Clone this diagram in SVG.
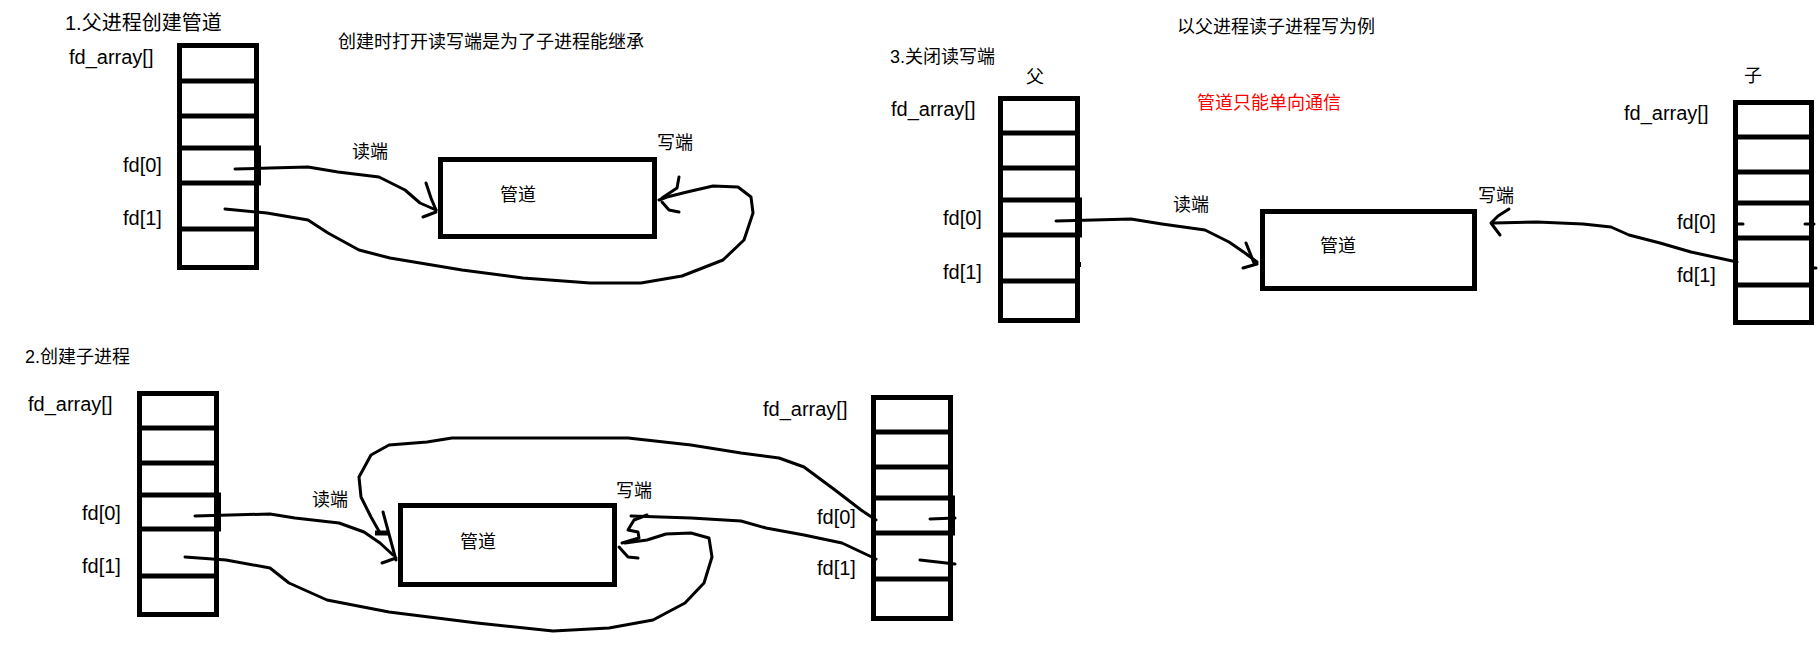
<svg xmlns="http://www.w3.org/2000/svg" width="1820" height="656" viewBox="0 0 1820 656">
<style>
.bg{fill:#fff}
.box{fill:none;stroke:#000;stroke-width:5}
.div{stroke:#000;stroke-width:5}
.pipe{fill:none;stroke:#000;stroke-width:5}
.c{fill:none;stroke:#000;stroke-width:3;stroke-linejoin:round;stroke-linecap:round}
text{font-family:"Liberation Sans","Noto Sans CJK SC",sans-serif;fill:#000}
.l{font-size:20px}
.z{font-size:18px}
.red{fill:#ff0000}
</style>
<rect class="bg" x="0" y="0" width="1820" height="656"/>

<!-- Section 1 -->
<g id="sec1-titles">
<text class="l" x="65" y="30">1.父进程创建管道</text>
<text class="z" x="338" y="48">创建时打开读写端是为了子进程能继承</text>
</g>
<g id="s1-fdarray">
<text class="l" x="69" y="64">fd_array[]</text>
<rect class="box" x="179.5" y="45.5" width="77" height="222"/>
<line class="div" x1="177" y1="81" x2="259" y2="81"/>
<line class="div" x1="177" y1="116" x2="259" y2="116"/>
<line class="div" x1="177" y1="148" x2="261" y2="148"/>
<line class="div" x1="177" y1="183" x2="261" y2="183"/>
<line class="div" x1="258.5" y1="148" x2="258.5" y2="183"/>
<line class="div" x1="177" y1="229" x2="259" y2="229"/>
<text class="l" x="123" y="172">fd[0]</text>
<text class="l" x="123" y="225">fd[1]</text>
</g>
<g id="s1-pipe">
<rect class="pipe" x="440.5" y="159.5" width="214" height="77"/>
<text class="z" x="500" y="201">管道</text>
<text class="z" x="352" y="158">读端</text>
<text class="z" x="657" y="149">写端</text>
</g>

<!-- Section 3 -->
<g id="sec3-titles">
<text class="z" x="1177" y="33">以父进程读子进程写为例</text>
<text class="z" x="890" y="63">3.关闭读写端</text>
<text class="z" x="1026" y="83">父</text>
<text class="z" x="1744" y="82">子</text>
<text class="z red" x="1197" y="109">管道只能单向通信</text>
</g>
<g id="s3-parent">
<text class="l" x="891" y="116">fd_array[]</text>
<rect class="box" x="1000.5" y="98.5" width="77" height="222"/>
<line class="div" x1="998" y1="133" x2="1080" y2="133"/>
<line class="div" x1="998" y1="168" x2="1080" y2="168"/>
<line class="div" x1="998" y1="200" x2="1082" y2="200"/>
<line class="div" x1="998" y1="235" x2="1082" y2="235"/>
<line class="div" x1="1079.5" y1="200" x2="1079.5" y2="235"/>
<line class="div" x1="998" y1="281" x2="1080" y2="281"/>
<rect x="1077" y="262" width="4" height="5" fill="#000"/>
<text class="l" x="943" y="225">fd[0]</text>
<text class="l" x="943" y="279">fd[1]</text>
</g>
<g id="s3-pipe">
<rect class="pipe" x="1262.5" y="211.5" width="212" height="77"/>
<text class="z" x="1320" y="252">管道</text>
<text class="z" x="1173" y="211">读端</text>
<text class="z" x="1478" y="202">写端</text>
</g>
<g id="s3-child">
<text class="l" x="1624" y="120">fd_array[]</text>
<rect class="box" x="1735.5" y="102.5" width="76" height="220"/>
<line class="div" x1="1733" y1="137" x2="1814" y2="137"/>
<line class="div" x1="1733" y1="172" x2="1814" y2="172"/>
<line class="div" x1="1733" y1="203" x2="1814" y2="203"/>
<line class="div" x1="1733" y1="238" x2="1814" y2="238"/>
<line class="div" x1="1733" y1="285" x2="1814" y2="285"/>
<text class="l" x="1677" y="229">fd[0]</text>
<text class="l" x="1677" y="282">fd[1]</text>
</g>

<!-- Section 2 -->
<g id="sec2-title">
<text class="z" x="25" y="363">2.创建子进程</text>
</g>
<g id="s2-parent">
<text class="l" x="28" y="411">fd_array[]</text>
<rect class="box" x="139.5" y="393.5" width="77" height="221"/>
<line class="div" x1="137" y1="428" x2="219" y2="428"/>
<line class="div" x1="137" y1="463" x2="219" y2="463"/>
<line class="div" x1="137" y1="495" x2="221" y2="495"/>
<line class="div" x1="137" y1="529" x2="221" y2="529"/>
<line class="div" x1="218.5" y1="495" x2="218.5" y2="529"/>
<line class="div" x1="137" y1="576" x2="219" y2="576"/>
<text class="l" x="82" y="520">fd[0]</text>
<text class="l" x="82" y="573">fd[1]</text>
</g>
<g id="s2-pipe">
<rect class="pipe" x="400.5" y="505.5" width="214" height="79"/>
<text class="z" x="460" y="548">管道</text>
<text class="z" x="312" y="506">读端</text>
<text class="z" x="616" y="497">写端</text>
</g>
<g id="s2-child">
<text class="l" x="763" y="416">fd_array[]</text>
<rect class="box" x="873.5" y="397.5" width="77" height="221"/>
<line class="div" x1="871" y1="432" x2="953" y2="432"/>
<line class="div" x1="871" y1="467" x2="953" y2="467"/>
<line class="div" x1="871" y1="498" x2="955" y2="498"/>
<line class="div" x1="871" y1="533" x2="955" y2="533"/>
<line class="div" x1="952.5" y1="498" x2="952.5" y2="533"/>
<line class="div" x1="871" y1="579" x2="953" y2="579"/>
<text class="l" x="817" y="524">fd[0]</text>
<text class="l" x="817" y="575">fd[1]</text>
</g>

<g id="connectors">
<!-- section 1 -->
<path class="c" d="M235,169 L270,168 308,167 338,172 379,177 405,190 420,203 436,210"/>
<path class="c" d="M426,183 L431,198 436,210 M423,217 L436,212"/>
<path class="c" d="M225,209 L267,213 308,220 328,233 359,250 390,258 462,270 523,278 590,283 641,283 682,276 723,260 744,240 753,213 751,197 738,187 713,186 687,192 667,197 659,200"/>
<path class="c" d="M679,177 L677,188 662,198 M662,202 L669,210 679,212"/>
<!-- section 3 -->
<path class="c" d="M1056,221 L1131,219 1162,224 1205,230 1229,242 1245,253 1257,262"/>
<path class="c" d="M1246,243 L1254,263 M1243,268 L1257,264"/>
<path class="c" d="M1737,262 L1691,252 1660,243 1629,235 1611,227 1583,224 1537,222 1494,223"/>
<path class="c" d="M1509,209 L1498,216 1491,223 1500,235"/>
<path class="c" d="M1736,224 L1743,224 M1805,224 L1814,224 M1812,268 L1816,268"/>
<!-- section 2 -->
<path class="c" d="M195,516 L270,514 295,518 339,523 364,532 380,543 393,555"/>
<path class="c" d="M383,512 L396,560 M382,563 L396,558"/>
<path d="M375,533 L388,533" stroke="#000" stroke-width="5"/>
<path class="c" d="M876,520 L861,510 835,490 804,467 779,458 741,453 691,445 628,438 452,438 427,442 389,445 371,455 359,477 361,497 371,517 380,533"/>
<path class="c" d="M185,557 L226,560 270,568 289,583 327,600 389,612 477,623 553,631 609,628 653,620 685,603 704,583 712,557 709,538 691,533 666,534 647,540 625,543"/>
<path class="c" d="M647,515 L634,520 628,530 638,532 639,538 622,543 M619,547 L628,557 638,558"/>
<path class="c" d="M631,516 L691,518 741,521 766,528 804,535 842,543 876,559"/>
<path class="c" d="M930,519 L955,518 M920,560 L955,564"/>
</g>
</svg>
